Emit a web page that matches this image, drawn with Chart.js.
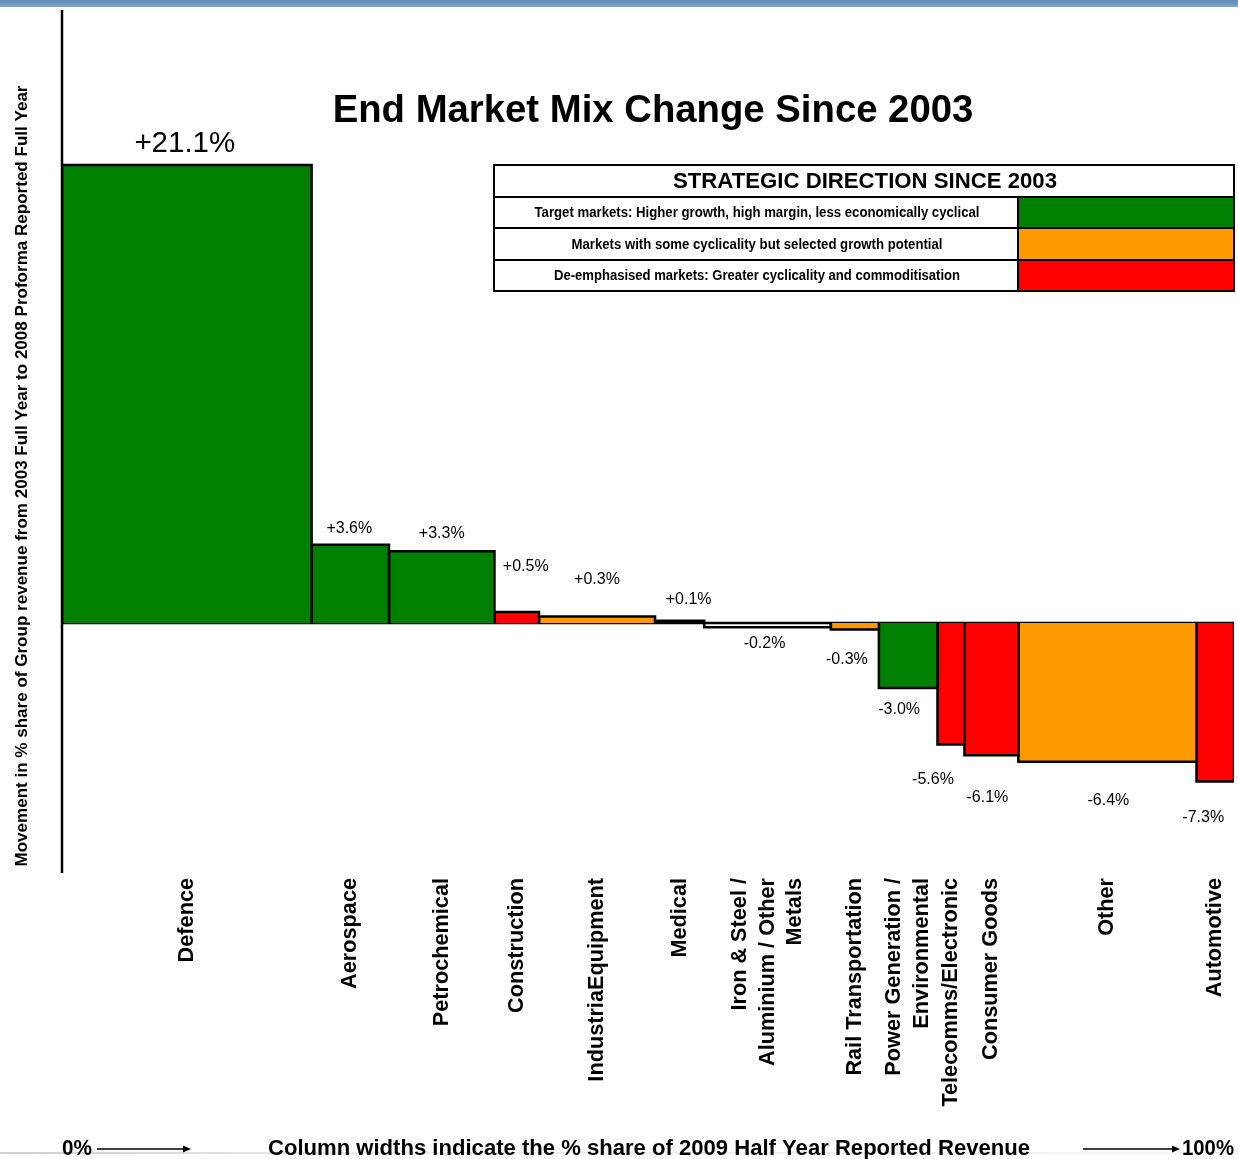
<!DOCTYPE html>
<html>
<head>
<meta charset="utf-8">
<title>End Market Mix Change Since 2003</title>
<script src="https://cdn.jsdelivr.net/npm/chart.js@4.4.1/dist/chart.umd.min.js"></script>
<style>
  html, body { margin: 0; padding: 0; background: #fff; }
  #wrap { width: 1238px; height: 1159px; position: relative; }
</style>
</head>
<body>
<div id="wrap"><canvas id="mixChart" width="1238" height="1159"></canvas></div>
<script>
// End markets, left to right
const markets = [
  ['Defence'], ['Aerospace'], ['Petrochemical'], ['Construction'], ['IndustriaEquipment'],
  ['Medical'], ['Iron & Steel /', 'Aluminium / Other', 'Metals'], ['Rail Transportation'],
  ['Power Generation /', 'Environmental'], ['Telecomms/Electronic'], ['Consumer Goods'],
  ['Other'], ['Automotive']
];
// column width: % share of 2009 half year reported revenue
const revenueShare = [21.3, 6.6, 9.0, 3.8, 9.9, 4.2, 10.8, 4.1, 5.0, 2.3, 4.6, 15.2, 3.2];
// column height: movement in % share, 2003 FY -> 2008 proforma FY
const mixChange = [21.1, 3.6, 3.3, 0.5, 0.3, 0.1, -0.2, -0.3, -3.0, -5.6, -6.1, -6.4, -7.3];
// strategic direction of each market
const direction = ['target', 'target', 'target', 'deemph', 'selected', null, null, 'selected',
  'target', 'deemph', 'deemph', 'selected', 'deemph'];

const directionColors = { target: '#008000', selected: '#FF9900', deemph: '#FF0000' };
const directionText = [
  ['Target markets: Higher growth, high margin, less economically cyclical', 'target'],
  ['Markets with some cyclicality but selected growth potential', 'selected'],
  ['De-emphasised markets: Greater cyclicality and commoditisation', 'deemph']
];

// small pixel nudges for the value labels [dx, dy]
const labelNudge = [[-2, 1], [-1, 6], [0, 4], [9, -24], [0, -15], [9, 1], [-3, -12],
  [-8, 2], [-9, -6], [-18, 7], [-4, 14], [1, 11], [-12, 8]];

const SANS = "'Liberation Sans', Arial, Helvetica, sans-serif";

// draw text squeezed/stretched horizontally to a given width (narrow face look)
function fitText(ctx, text, x, y, width) {
  const w = ctx.measureText(text).width;
  const align = ctx.textAlign;
  ctx.save();
  ctx.translate(x, y);
  ctx.scale(width / w, 1);
  ctx.textAlign = align;
  ctx.fillText(text, 0, 0);
  ctx.restore();
}

// build the column polygons from cumulative shares
let acc = 0;
const columns = revenueShare.map((w, i) => {
  const c = { x0: acc, x1: acc + w, v: mixChange[i] };
  acc += w;
  return c;
});

const datasets = columns.map((c, i) => ({
  label: markets[i].join(' '),
  data: [{ x: c.x0, y: 0 }, { x: c.x0, y: c.v }, { x: c.x1, y: c.v }, { x: c.x1, y: 0 }],
  borderColor: '#000',
  borderWidth: 2.5,
  borderJoinStyle: 'miter',
  backgroundColor: direction[i] ? directionColors[direction[i]] : 'rgba(0,0,0,0)',
  fill: 'origin',
  pointRadius: 0,
  tension: 0
}));
// zero line across the whole width
datasets.push({
  label: 'zero',
  data: [{ x: 0, y: 0 }, { x: 100, y: 0 }],
  borderColor: '#000',
  borderWidth: 2.5,
  fill: false,
  pointRadius: 0
});

function arrow(ctx, xa, xb, y) {
  ctx.beginPath();
  ctx.moveTo(xa, y);
  ctx.lineTo(xb - 6, y);
  ctx.stroke();
  ctx.beginPath();
  ctx.moveTo(xb, y);
  ctx.lineTo(xb - 8, y - 3.5);
  ctx.lineTo(xb - 8, y + 3.5);
  ctx.closePath();
  ctx.fill();
}

const decorations = {
  id: 'decorations',
  beforeDraw(chart) {
    const ctx = chart.ctx;
    ctx.save();
    // top banner strip
    const g = ctx.createLinearGradient(0, 0, 0, 8);
    g.addColorStop(0, '#5f8cb9');
    g.addColorStop(1, '#86a9cc');
    ctx.fillStyle = g;
    ctx.fillRect(0, 0, chart.width, 7);
    // faint footer rule
    const fg = ctx.createLinearGradient(0, 0, chart.width, 0);
    fg.addColorStop(0, '#cfcfcf');
    fg.addColorStop(0.3, '#ececec');
    fg.addColorStop(1, '#f4f4f4');
    ctx.fillStyle = fg;
    ctx.fillRect(0, 1152, chart.width, 2);
    ctx.restore();
  },
  afterDatasetsDraw(chart) {
    const { ctx, chartArea, scales: { x, y } } = chart;
    ctx.save();

    // y axis line
    ctx.strokeStyle = '#000';
    ctx.lineWidth = 2.5;
    ctx.beginPath();
    ctx.moveTo(chartArea.left, chartArea.top);
    ctx.lineTo(chartArea.left, chartArea.bottom);
    ctx.stroke();

    // value labels
    ctx.fillStyle = '#000';
    ctx.textAlign = 'center';
    ctx.textBaseline = 'middle';
    columns.forEach((c, i) => {
      const cx = x.getPixelForValue((c.x0 + c.x1) / 2);
      const end = y.getPixelForValue(c.v);
      const txt = (c.v > 0 ? '+' : '') + c.v.toFixed(1) + '%';
      ctx.font = (i === 0 ? '29.5px ' : '16px ') + SANS;
      const ly = c.v >= 0 ? end - 22 : end + 28;
      ctx.fillText(txt, cx + labelNudge[i][0], ly + labelNudge[i][1]);
    });

    // category labels, rotated
    ctx.font = 'bold 21.7px ' + SANS;
    ctx.textAlign = 'right';
    columns.forEach((c, i) => {
      const cx = x.getPixelForValue((c.x0 + c.x1) / 2);
      const lines = markets[i];
      lines.forEach((line, k) => {
        const off = (k - (lines.length - 1) / 2) * 27.5;
        ctx.save();
        ctx.translate(cx + off, chartArea.bottom + 5);
        ctx.rotate(-Math.PI / 2);
        ctx.fillText(line, 0, 0);
        ctx.restore();
      });
    });

    // y axis title
    ctx.save();
    ctx.translate(22, 476);
    ctx.rotate(-Math.PI / 2);
    ctx.textAlign = 'center';
    ctx.font = 'bold 16.5px ' + SANS;
    fitText(ctx, 'Movement in % share of Group revenue from 2003 Full Year to 2008 Proforma Reported Full Year', 0, 0, 781);
    ctx.restore();

    // title
    ctx.textAlign = 'center';
    ctx.font = 'bold 38.3px ' + SANS;
    ctx.fillText('End Market Mix Change Since 2003', 653, 111);

    // strategic direction table
    const tx0 = 494, tx1 = 1234, split = 1018;
    const rows = [165, 197, 228, 260, 291];
    directionText.forEach((d, r) => {
      ctx.fillStyle = directionColors[d[1]];
      ctx.fillRect(split, rows[r + 1], tx1 - split, rows[r + 2] - rows[r + 1]);
    });
    ctx.strokeStyle = '#000';
    ctx.lineWidth = 2;
    ctx.strokeRect(tx0, rows[0], tx1 - tx0, rows[4] - rows[0]);
    ctx.beginPath();
    for (let r = 1; r < 4; r++) {
      ctx.moveTo(tx0, rows[r]);
      ctx.lineTo(tx1, rows[r]);
    }
    ctx.moveTo(split, rows[1]);
    ctx.lineTo(split, rows[4]);
    ctx.stroke();
    ctx.fillStyle = '#000';
    ctx.font = 'bold 22px ' + SANS;
    fitText(ctx, 'STRATEGIC DIRECTION SINCE 2003', 865, (rows[0] + rows[1]) / 2 + 1, 384);
    ctx.font = 'bold 14px ' + SANS;
    const rowWidths = [445, 371, 406];
    directionText.forEach((d, r) => {
      fitText(ctx, d[0], 757, (rows[r + 1] + rows[r + 2]) / 2 + 1, rowWidths[r]);
    });

    // footer: column width note
    const fy = 1149;
    ctx.font = 'bold 22px ' + SANS;
    ctx.textAlign = 'center';
    fitText(ctx, '0%', 77, fy, 30);
    fitText(ctx, '100%', 1208, fy, 52);
    fitText(ctx, 'Column widths indicate the % share of 2009 Half Year Reported Revenue', 649, fy, 762);
    ctx.lineWidth = 1.5;
    arrow(ctx, 97, 191, fy);
    arrow(ctx, 1083, 1180, fy);

    ctx.restore();
  }
};

new Chart(document.getElementById('mixChart').getContext('2d'), {
  type: 'line',
  data: { datasets },
  options: {
    responsive: false,
    animation: false,
    layout: { padding: { left: 62, right: 4, top: 10, bottom: 286 } },
    scales: {
      x: { type: 'linear', min: 0, max: 100, display: false },
      y: { type: 'linear', min: -11.52, max: 28.24, display: false }
    },
    plugins: {
      legend: { display: false },
      tooltip: { enabled: false }
    }
  },
  plugins: [decorations]
});
</script>
</body>
</html>
